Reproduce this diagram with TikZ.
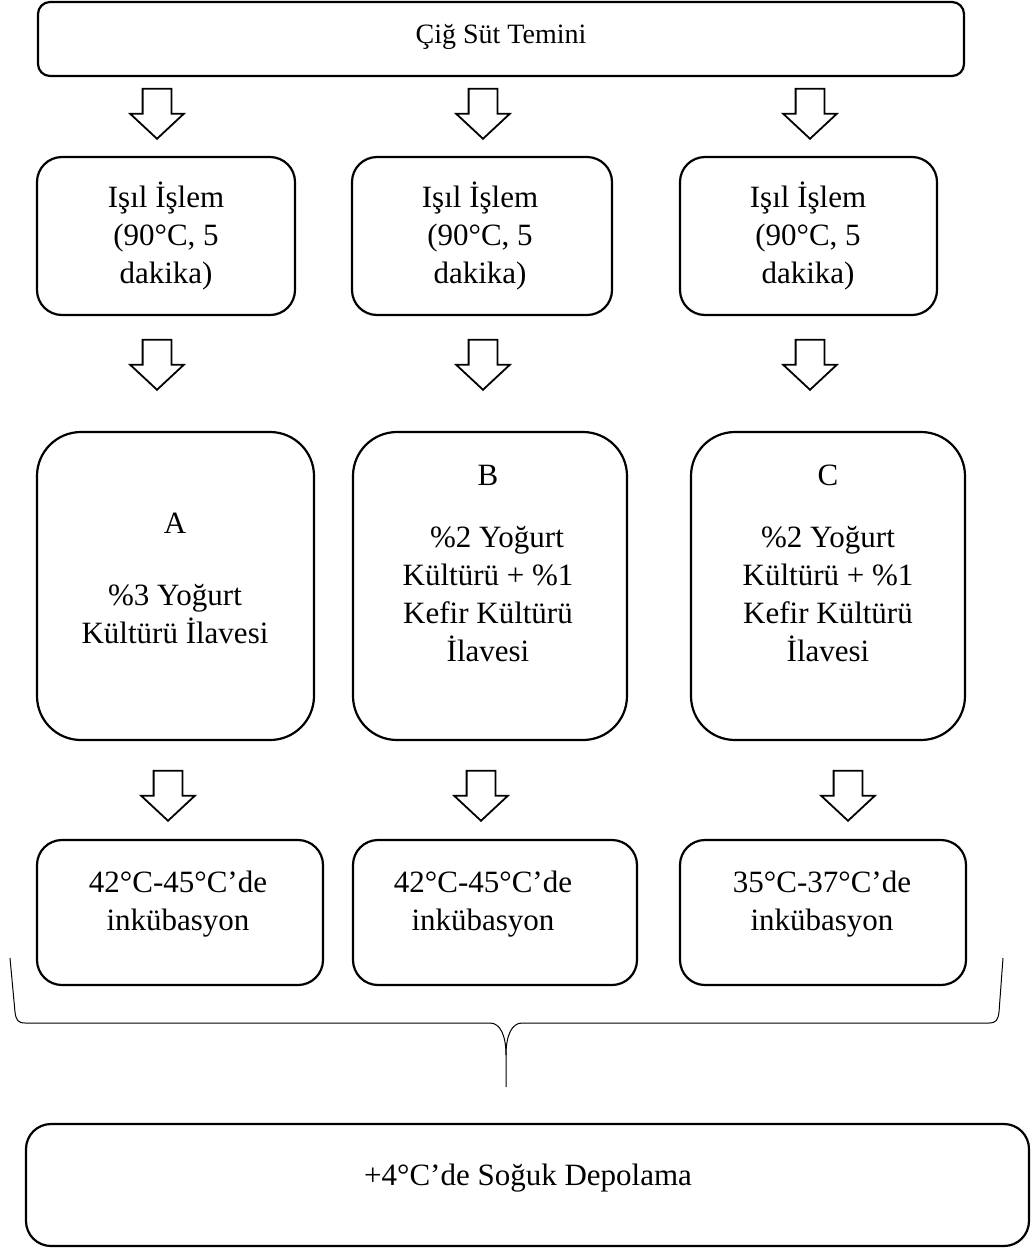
\documentclass[tikz,border=0pt]{standalone}
\usepackage{fontspec}
\setmainfont{Liberation Serif}
\usetikzlibrary{shapes.arrows}
\tikzset{
  stepbox/.style={draw, line width=2.2pt, rounded corners=#1, inner sep=0pt},
  stepbox/.default=25pt,
  txt/.style={font=\fontsize{31}{38}\selectfont, align=center, anchor=base, inner sep=0pt},
  downarrow/.style={single arrow, draw, line width=1.8pt, shape border rotate=270,
    minimum height=50pt, single arrow head extend=12.5pt,
    single arrow tip angle=94, inner sep=13.5pt, anchor=tip},
  bracestyle/.style={line width=1pt},
}
\begin{document}
\begin{tikzpicture}[x=1pt,y=-1pt]
\useasboundingbox (0,0) rectangle (1031,1248);
% top box
\node[stepbox=12pt, minimum width=926pt, minimum height=74pt] (top) at (501,39) {};
\node[font=\fontsize{28}{34}\selectfont, anchor=base, inner sep=0pt] (toptxt) at (501,43) {Çiğ Süt Temini};
% row 1 arrows
\node[downarrow] (a11) at (157,140) {};
\node[downarrow] (a12) at (483,140) {};
\node[downarrow] (a13) at (810,140) {};
% row 2 boxes
\node[stepbox, minimum width=258pt, minimum height=158pt] (h1) at (166,236) {};
\node[stepbox, minimum width=260pt, minimum height=158pt] (h2) at (482,236) {};
\node[stepbox, minimum width=257pt, minimum height=158pt] (h3) at (808.5,236) {};
\node[txt] (h1t) at (166,283) {Işıl İşlem\\(90°C, 5\\dakika)};
\node[txt] (h2t) at (480,283) {Işıl İşlem\\(90°C, 5\\dakika)};
\node[txt] (h3t) at (808,283) {Işıl İşlem\\(90°C, 5\\dakika)};
% row 2 arrows
\node[downarrow] (a21) at (157,391) {};
\node[downarrow] (a22) at (483,391) {};
\node[downarrow] (a23) at (810,391) {};
% row 3 boxes
\node[stepbox=44pt, minimum width=277pt, minimum height=308pt] (bA) at (175.5,586) {};
\node[stepbox=44pt, minimum width=274pt, minimum height=308pt] (bB) at (490,586) {};
\node[stepbox=44pt, minimum width=274pt, minimum height=308pt] (bC) at (828,586) {};
\node[txt] (tA) at (175,643) {A\\[34pt]\%3 Yoğurt\\Kültürü İlavesi};
\node[txt] (tB) at (488,661) {B\\[24pt]\hspace*{18pt}\%2 Yoğurt\\Kültürü + \%1\\Kefir Kültürü\\İlavesi};
\node[txt] (tC) at (828,661) {C\\[24pt]\%2 Yoğurt\\Kültürü + \%1\\Kefir Kültürü\\İlavesi};
% row 3 arrows
\node[downarrow] (a31) at (168,822) {};
\node[downarrow] (a32) at (481,822) {};
\node[downarrow] (a33) at (848,822) {};
% row 4 boxes
\node[stepbox, minimum width=286pt, minimum height=145pt] (i1) at (180,912.5) {};
\node[stepbox, minimum width=284pt, minimum height=145pt] (i2) at (495,912.5) {};
\node[stepbox, minimum width=286pt, minimum height=145pt] (i3) at (823,912.5) {};
\node[txt] (i1t) at (178,930) {42°C-45°C’de\\inkübasyon};
\node[txt] (i2t) at (483,930) {42°C-45°C’de\\inkübasyon};
\node[txt] (i3t) at (822,930) {35°C-37°C’de\\inkübasyon};
% brace
\coordinate (bl) at (10,958);
\coordinate (br) at (1003,958);
\coordinate (bm) at (506,1087);
\draw[bracestyle] (bl) -- (15,1012) .. controls (16,1020) and (18,1023) .. (25,1023)
  -- (490,1023) .. controls (500,1023) and (506,1035) .. (506,1055) -- (bm);
\draw[bracestyle] (br) -- (999,1012) .. controls (998,1020) and (996,1023) .. (989,1023)
  -- (522,1023) .. controls (512,1023) and (506,1035) .. (506,1055);
% bottom box
\node[stepbox, minimum width=1003pt, minimum height=122pt] (cold) at (527.5,1185) {};
\node[txt] (coldt) at (528,1185) {+4°C’de Soğuk Depolama};
\end{tikzpicture}
\end{document}
